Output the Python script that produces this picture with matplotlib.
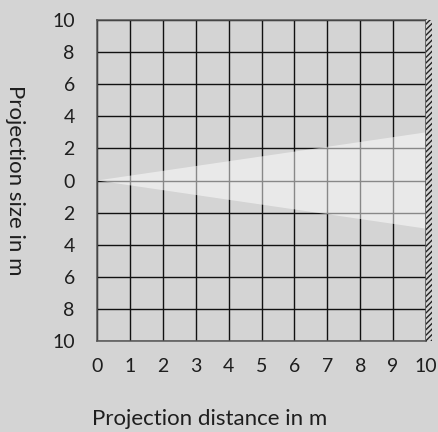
import matplotlib
matplotlib.use("Agg")
import matplotlib.pyplot as plt
from matplotlib.patches import Polygon, Rectangle

# data
x_ticks = [0, 1, 2, 3, 4, 5, 6, 7, 8, 9, 10]
y_ticks = [10, 8, 6, 4, 2, 0, -2, -4, -6, -8, -10]
y_tick_labels = ["10", "8", "6", "4", "2", "0", "2", "4", "6", "8", "10"]
beam_distance = [0, 10, 10]
beam_size = [0, 3, -3]

plt.rcParams["font.family"] = ["Lato", "DejaVu Sans"]

bg = "#d4d4d4"
txt = "#1e1e1e"
fig = plt.figure(figsize=(4.38, 4.32), dpi=100, facecolor=bg)
W, H = 438, 432
ax = fig.add_axes([97 / W, 1 - 341 / H, 329 / W, 321 / H])
ax.set_facecolor(bg)

ax.set_xlim(0, 10)
ax.set_ylim(-10, 10)
ax.set_xticks(x_ticks)
ax.set_yticks(y_ticks)
ax.set_yticklabels(y_tick_labels)
ax.tick_params(length=0, labelsize=14, labelcolor=txt, pad=16)
ax.tick_params(axis="x", pad=12)

for v in x_ticks:
    ax.axvline(v, color="#111111", lw=1.0, zorder=1)
for v in y_ticks:
    ax.axhline(v, color="#111111", lw=1.0, zorder=1)
for s in ax.spines.values():
    s.set_color("#555555")
    s.set_linewidth(1.1)

# beam triangle, semi-transparent over the grid
beam = Polygon(list(zip(beam_distance, beam_size)), closed=True,
               facecolor="white", alpha=0.5, edgecolor="none", zorder=2)
ax.add_patch(beam)

# wall at the right
wall = Rectangle((10, -10), 0.18, 20, facecolor=bg, edgecolor="#222222",
                 hatch="//////", lw=0, clip_on=False, zorder=3)
ax.add_patch(wall)

fig.text(15 / W, 1 - 180 / H, "Projection size in m", rotation=-90,
         ha="center", va="center", fontsize=16, color=txt)
fig.text(92 / W, 1 - 419 / H, "Projection distance in m",
         ha="left", va="center", fontsize=16, color=txt)

fig.savefig("out.png", dpi=100, facecolor=bg)
